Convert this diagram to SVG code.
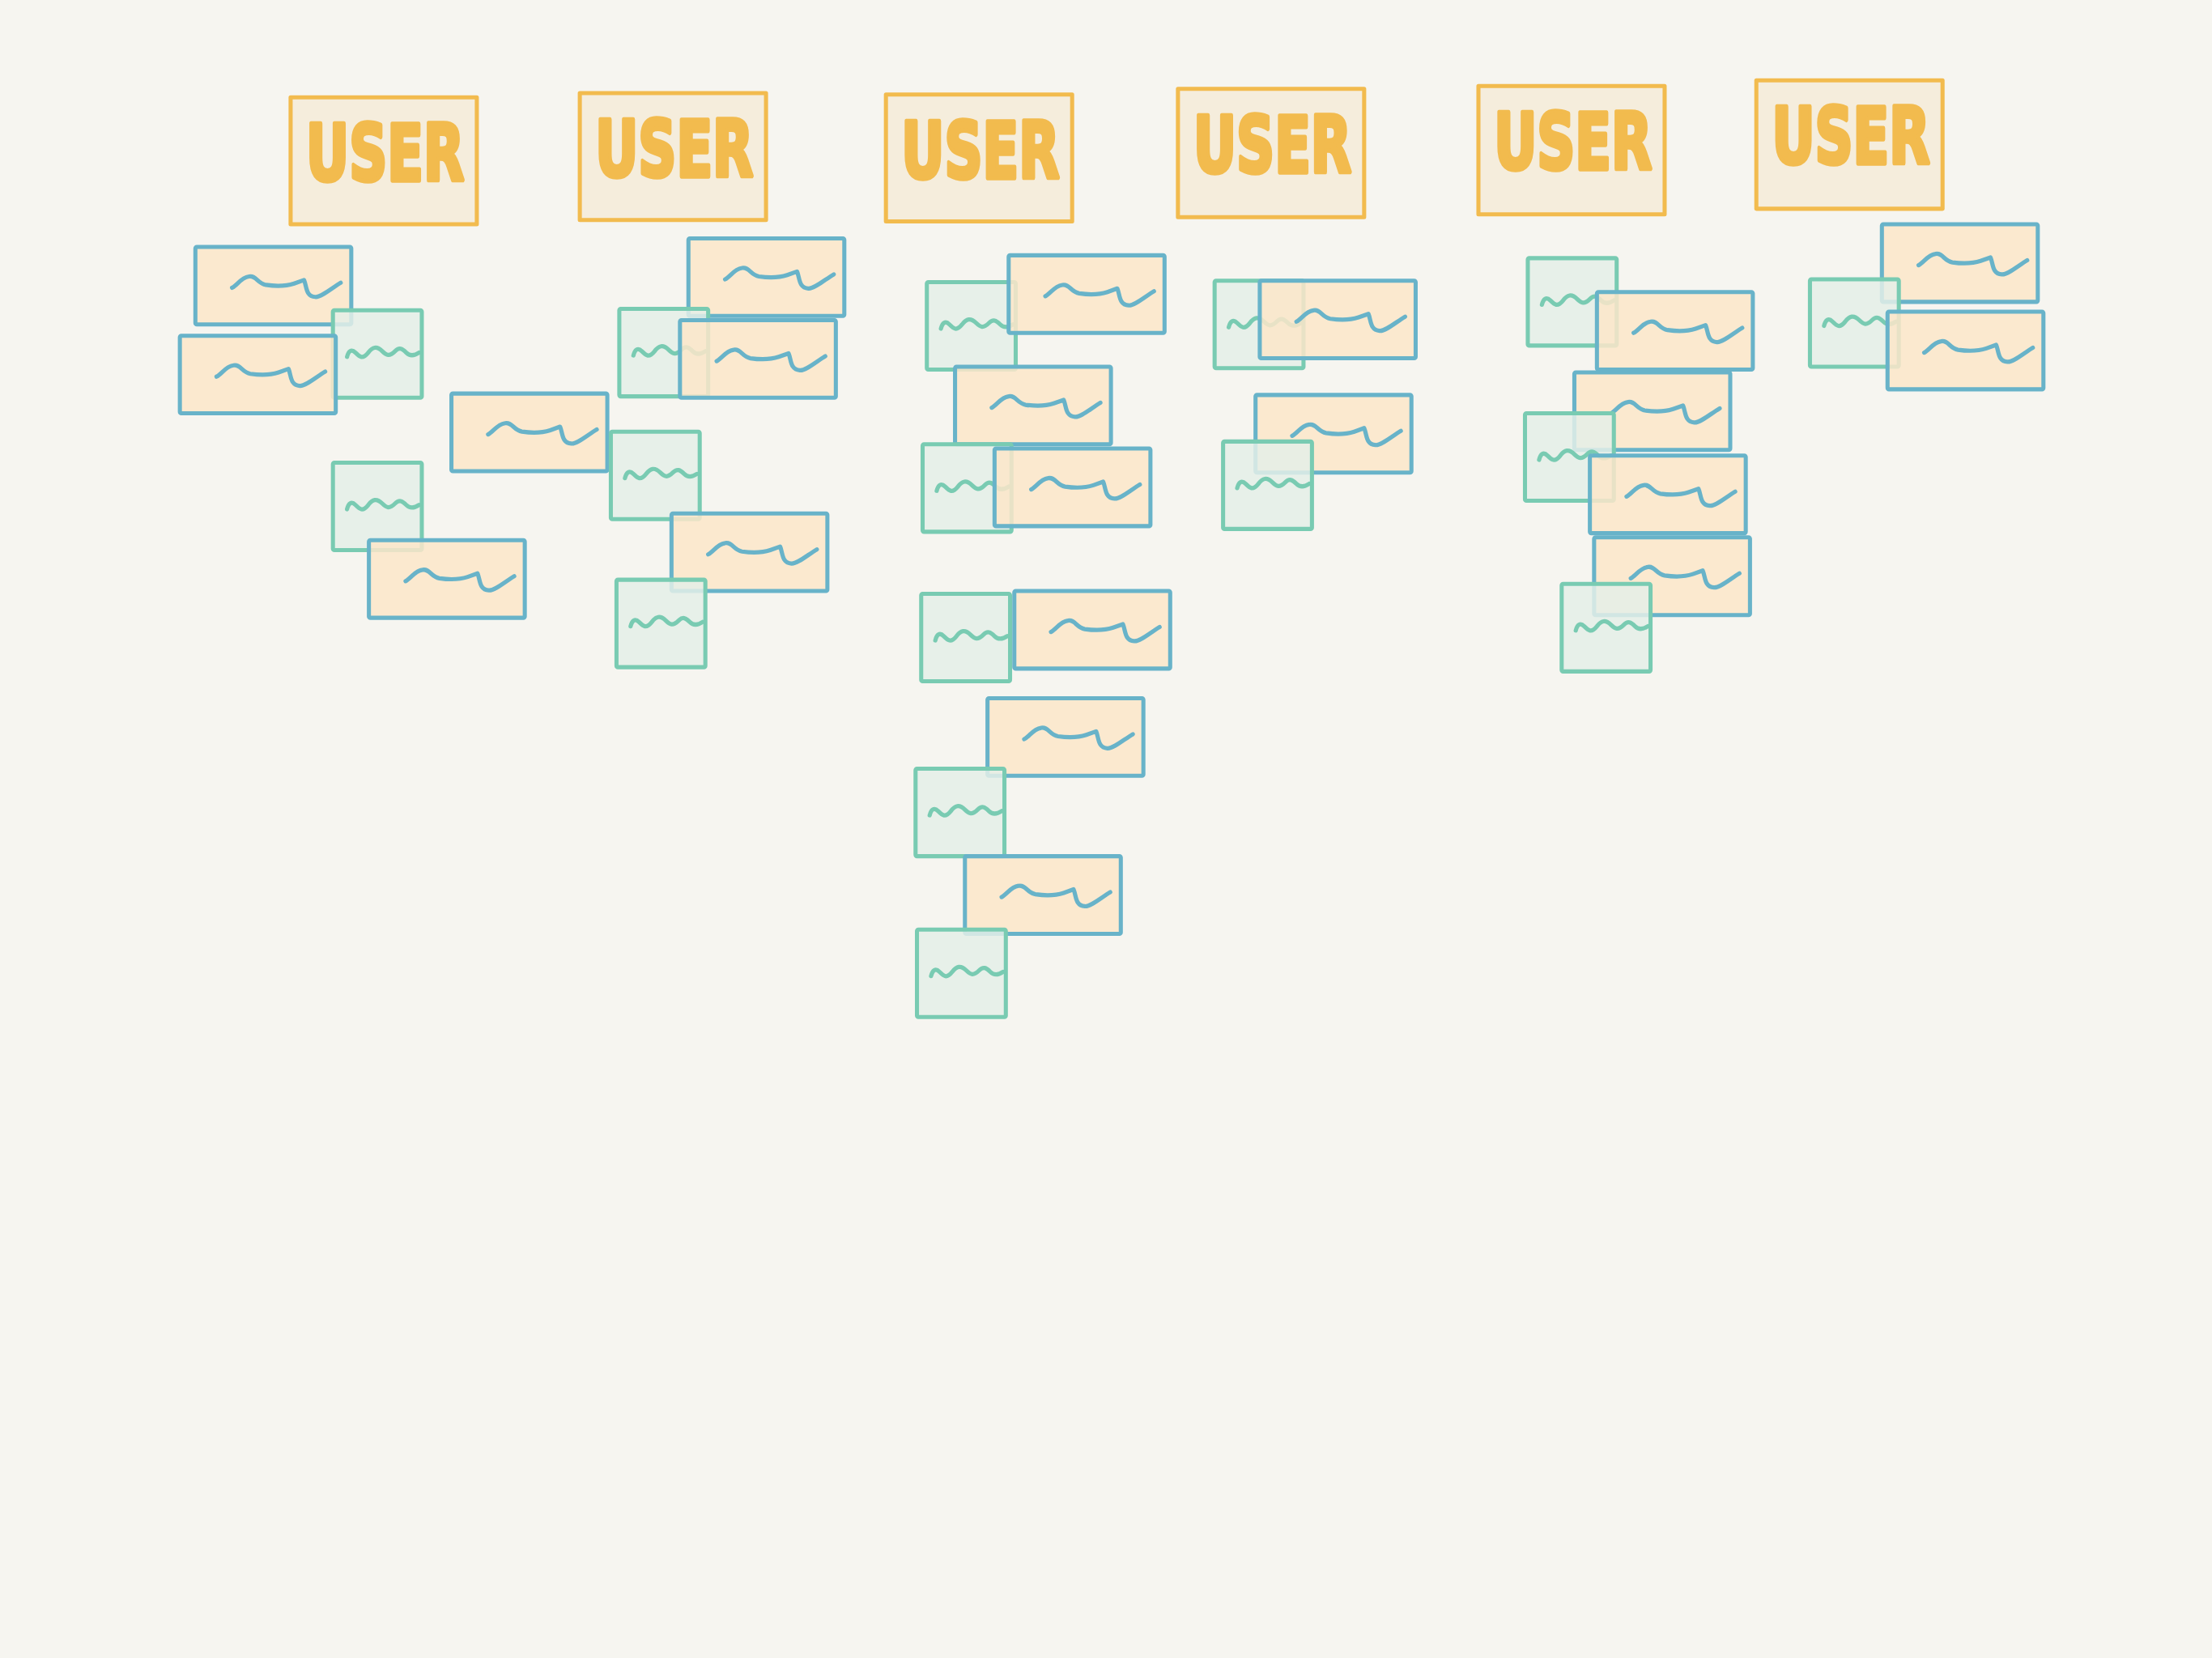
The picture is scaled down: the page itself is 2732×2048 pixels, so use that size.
<svg xmlns="http://www.w3.org/2000/svg" xmlns:xlink="http://www.w3.org/1999/xlink" width="2732" height="2048" viewBox="0 0 2732 2048">
<style>
.bg{fill:#f6f5f0}
.ub{fill:#f5eddc;stroke:#f2bb4e;stroke-width:2.9;stroke-linejoin:round}
.ut{font-family:"DejaVu Sans",sans-serif;font-weight:bold;font-size:55px;fill:#f2bb4e;stroke:#f2bb4e;stroke-width:3.2;stroke-linejoin:round;stroke-linecap:round}
.on{fill:#fbe6c9;fill-opacity:0.85;stroke:#68b3c9;stroke-width:2.9;stroke-linejoin:round}
.gn{fill:#e4eee8;fill-opacity:0.85;stroke:#79cbb2;stroke-width:2.9;stroke-linejoin:round}
.ow{fill:none;stroke:#68b3c9;stroke-width:3;stroke-linecap:round;stroke-linejoin:round}
.gw{fill:none;stroke:#79cbb2;stroke-width:3;stroke-linecap:round;stroke-linejoin:round}
</style>
<defs>
<g id="otpl">
<rect x="0" y="0" width="110.5" height="55" rx="1" class="on"/>
<path class="ow" d="M26,29 C30,27 32,22 38,21 C43,20 44,26 50,27 C57,28 64,28 70,26 L77,23.5 C79,28 78,35 85,35.5 C89,36 97,29 103,25.5"/>
</g>
<g id="gtpl">
<rect x="0" y="0" width="63" height="62" rx="1" class="gn"/>
<path class="gw" d="M10,33 C11,29 13,27 16,30 C19,33 21,35 25,30 C28,26 31,25 35,29 C38,32 40,33 44,29 C47,26 49,27 52,30 C55,33 58,32 61,30"/>
</g>
</defs>
<rect class="bg" x="0" y="0" width="2732" height="2048"/>
<g transform="scale(1.742347)">
<g id="users">
<g id="user1"><rect class="ub" x="206" y="69" width="132" height="90"/><text class="ut" x="217" y="128" textLength="112" lengthAdjust="spacingAndGlyphs">USER</text></g>
<g id="user2"><rect class="ub" x="411" y="66" width="132" height="90"/><text class="ut" x="422" y="125" textLength="112" lengthAdjust="spacingAndGlyphs">USER</text></g>
<g id="user3"><rect class="ub" x="628" y="67" width="132" height="90"/><text class="ut" x="639" y="126" textLength="112" lengthAdjust="spacingAndGlyphs">USER</text></g>
<g id="user4"><rect class="ub" x="835" y="63" width="132" height="91"/><text class="ut" x="846" y="122" textLength="112" lengthAdjust="spacingAndGlyphs">USER</text></g>
<g id="user5"><rect class="ub" x="1048" y="61" width="132" height="91"/><text class="ut" x="1059" y="120" textLength="112" lengthAdjust="spacingAndGlyphs">USER</text></g>
<g id="user6"><rect class="ub" x="1245" y="57" width="132" height="91"/><text class="ut" x="1256" y="116" textLength="112" lengthAdjust="spacingAndGlyphs">USER</text></g>
</g>
<g id="notes">
<g id="c1o1" transform="translate(138.5,175)"><use xlink:href="#otpl"/></g>
<g id="c1g1" transform="translate(236,220)"><use xlink:href="#gtpl"/></g>
<g id="c1o2" transform="translate(127.5,238)"><use xlink:href="#otpl"/></g>
<g id="c1o3" transform="translate(320,279)"><use xlink:href="#otpl"/></g>
<g id="c1g2" transform="translate(236,328)"><use xlink:href="#gtpl"/></g>
<g id="c1o4" transform="translate(261.5,383)"><use xlink:href="#otpl"/></g>

<g id="c2o1" transform="translate(488,169)"><use xlink:href="#otpl"/></g>
<g id="c2g1" transform="translate(439,219)"><use xlink:href="#gtpl"/></g>
<g id="c2o2" transform="translate(482,227)"><use xlink:href="#otpl"/></g>
<g id="c2g2" transform="translate(433,306)"><use xlink:href="#gtpl"/></g>
<g id="c2o3" transform="translate(476,364)"><use xlink:href="#otpl"/></g>
<g id="c2g3" transform="translate(437,411)"><use xlink:href="#gtpl"/></g>

<g id="c3g1" transform="translate(657,200)"><use xlink:href="#gtpl"/></g>
<g id="c3o1" transform="translate(715,181)"><use xlink:href="#otpl"/></g>
<g id="c3o2" transform="translate(677,260)"><use xlink:href="#otpl"/></g>
<g id="c3g2" transform="translate(654,315)"><use xlink:href="#gtpl"/></g>
<g id="c3o3" transform="translate(705,318)"><use xlink:href="#otpl"/></g>
<g id="c3g3" transform="translate(653,421)"><use xlink:href="#gtpl"/></g>
<g id="c3o4" transform="translate(719,419)"><use xlink:href="#otpl"/></g>
<g id="c3o5" transform="translate(700,495)"><use xlink:href="#otpl"/></g>
<g id="c3g4" transform="translate(649,545)"><use xlink:href="#gtpl"/></g>
<g id="c3o6" transform="translate(684,607)"><use xlink:href="#otpl"/></g>
<g id="c3g5" transform="translate(650,659)"><use xlink:href="#gtpl"/></g>

<g id="c4g1" transform="translate(861,199)"><use xlink:href="#gtpl"/></g>
<g id="c4o1" transform="translate(893,199)"><use xlink:href="#otpl"/></g>
<g id="c4o2" transform="translate(890,280)"><use xlink:href="#otpl"/></g>
<g id="c4g2" transform="translate(867,313)"><use xlink:href="#gtpl"/></g>

<g id="c5g1" transform="translate(1083,183)"><use xlink:href="#gtpl"/></g>
<g id="c5o1" transform="translate(1132,207)"><use xlink:href="#otpl"/></g>
<g id="c5o2" transform="translate(1116,264)"><use xlink:href="#otpl"/></g>
<g id="c5g2" transform="translate(1081,293)"><use xlink:href="#gtpl"/></g>
<g id="c5o3" transform="translate(1127,323)"><use xlink:href="#otpl"/></g>
<g id="c5o4" transform="translate(1130,381)"><use xlink:href="#otpl"/></g>
<g id="c5g3" transform="translate(1107,414)"><use xlink:href="#gtpl"/></g>

<g id="c6o1" transform="translate(1334,159)"><use xlink:href="#otpl"/></g>
<g id="c6g1" transform="translate(1283,198)"><use xlink:href="#gtpl"/></g>
<g id="c6o2" transform="translate(1338,221)"><use xlink:href="#otpl"/></g>
</g>
<g id="connectors"/>
</g>
</svg>
